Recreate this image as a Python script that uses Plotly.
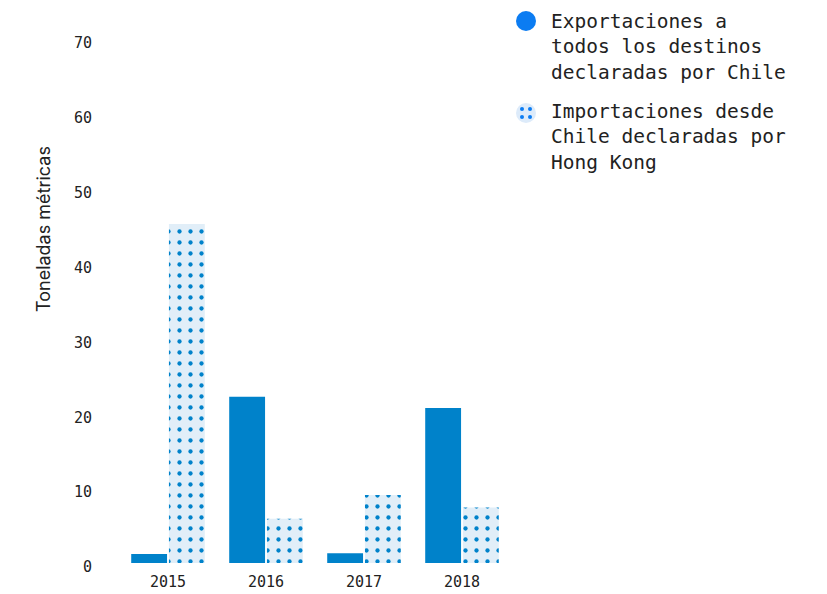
import plotly.graph_objects as go

years = ["2015", "2016", "2017", "2018"]
exportaciones = [1.2, 22.2, 1.3, 20.7]
importaciones_hk = [45.3, 5.9, 9.1, 7.4]
y_ticks = [0, 10, 20, 30, 40, 50, 60, 70]
legend_labels = [
    "Exportaciones a<br>todos los destinos<br>declaradas por Chile",
    "Importaciones desde<br>Chile declaradas por<br>Hong Kong",
]

W, H = 827, 594
OFF = 8  # page body margin
L, R, T, B = 111, 324, 31, 39
pw, ph = W - L - R, H - T - B


def px(x):
    return (x - OFF - L) / pw


def py(y):
    return (H - B - (y - OFF)) / ph


fig = go.Figure()
fig.add_trace(go.Bar(
    x=years, y=exportaciones, name="Exportaciones",
    marker=dict(color="#0082CA", line=dict(width=0)),
    showlegend=False,
))
fig.add_trace(go.Bar(
    x=years, y=importaciones_hk, name="Importaciones",
    marker=dict(color="#E1EEF8", line=dict(width=0),
                pattern=dict(shape=".", fgcolor="#0082CA", bgcolor="#E1EEF8",
                             fgopacity=1, size=11, solidity=0.12,
                             fillmode="overlay")),
    showlegend=False,
))

shapes = []
r = 10
shapes.append(dict(type="circle", xref="paper", yref="paper",
                   x0=px(526 - r), x1=px(526 + r), y0=py(21 + r), y1=py(21 - r),
                   fillcolor="#0B7CF2", line=dict(width=0)))
shapes.append(dict(type="circle", xref="paper", yref="paper",
                   x0=px(526 - r), x1=px(526 + r), y0=py(113 + r), y1=py(113 - r),
                   fillcolor="#DDEBFA", line=dict(width=0)))
for dx in (-4, 4):
    for dy in (-4, 4):
        cx, cy, rr = 526 + dx, 113 + dy, 2
        shapes.append(dict(type="circle", xref="paper", yref="paper",
                           x0=px(cx - rr), x1=px(cx + rr), y0=py(cy + rr), y1=py(cy - rr),
                           fillcolor="#0B7CF2", line=dict(width=0)))

annotations = [
    dict(text=legend_labels[0], xref="paper", yref="paper", x=px(549), y=py(8),
         xanchor="left", yanchor="top", align="left", showarrow=False,
         font=dict(family="DejaVu Sans Mono", size=19.5, color="#222222")),
    dict(text=legend_labels[1], xref="paper", yref="paper", x=px(549), y=py(98),
         xanchor="left", yanchor="top", align="left", showarrow=False,
         font=dict(family="DejaVu Sans Mono", size=19.5, color="#222222")),
    dict(text="Toneladas métricas", xref="paper", yref="paper", x=px(43), y=py(229),
         xanchor="center", yanchor="middle", textangle=-90, showarrow=False,
         font=dict(family="Inter", size=18, color="#222222")),
]

fig.update_layout(
    width=W, height=H,
    margin=dict(l=L, r=R, t=T, b=B, pad=0),
    paper_bgcolor="white", plot_bgcolor="white",
    barmode="group", bargap=0.23, bargroupgap=0.05,
    shapes=shapes, annotations=annotations,
    showlegend=False,
)
fig.update_xaxes(showgrid=False, showline=False, zeroline=False, ticks="",
                 ticklabelstandoff=8,
                 tickfont=dict(family="DejaVu Sans Mono", size=15, color="#222222"))
fig.update_yaxes(range=[0, 70], tickvals=y_ticks, showgrid=False, showline=False,
                 zeroline=False, ticks="", ticklabelstandoff=26, ticklabelshift=4,
                 tickfont=dict(family="DejaVu Sans Mono", size=15, color="#222222"))

fig.write_html("out.html")
